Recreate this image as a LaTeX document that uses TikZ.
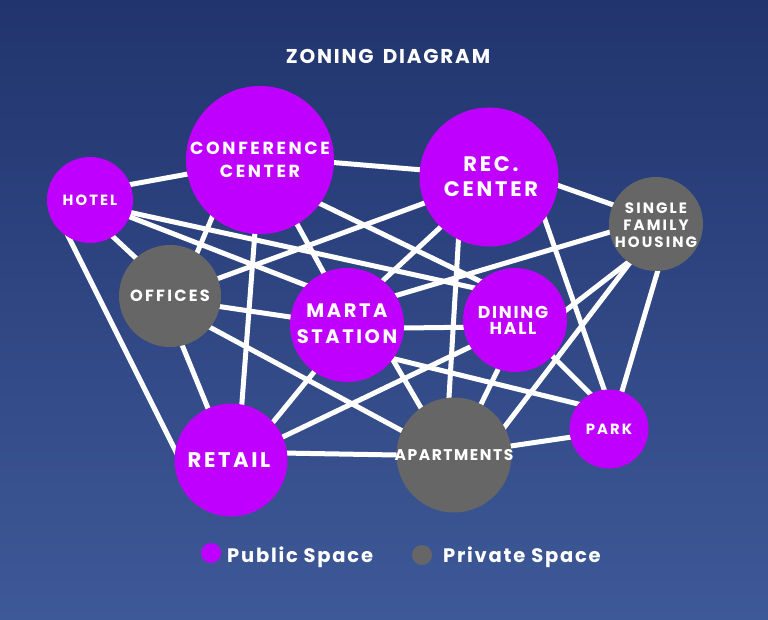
\documentclass[tikz,border=0pt]{standalone}
\usepackage{fontspec}
\setmainfont{Poppins}
\newfontfamily\lab{Poppins}
\pgfdeclarelayer{back}
\pgfdeclarelayer{edges}
\pgfsetlayers{back,edges,main}
\definecolor{bgtop}{HTML}{21346E}
\definecolor{bgbot}{HTML}{3E5998}
\definecolor{purp}{HTML}{C000FF}
\definecolor{greyz}{HTML}{666666}
\newcommand{\zf}[3]{\lab\bfseries\addfontfeatures{LetterSpace=#3}\fontsize{#1}{#2}\selectfont}
\begin{document}
\begin{tikzpicture}[x=1pt,y=-1pt,
  zone/.style={circle, inner sep=0pt},
  pub/.style={zone, fill=purp},
  priv/.style={zone, fill=greyz},
  ztext/.style={inner sep=0pt, text=white, align=center},
  link/.style={white, line width=5pt, shorten <=-4pt, shorten >=-4pt},
  dot/.style={circle, inner sep=0pt, minimum size=20pt},
]
\useasboundingbox (0,0) rectangle (768,620);
\begin{pgfonlayer}{back}
\shade[top color=bgtop, bottom color=bgbot] (0,0) rectangle (768,620);
\end{pgfonlayer}

% title
\node[ztext, anchor=base, font=\zf{20}{24}{9}] (title) at (388,64) {ZONING\hspace{3pt} DIAGRAM};

% zones
\node[pub, minimum size=86pt]  (H) at (90,200) {};
\node[pub, minimum size=148pt] (C) at (260,160) {};
\node[pub, minimum size=139pt] (R) at (489,177) {};
\node[priv, minimum size=94pt] (S) at (656,224) {};
\node[priv, minimum size=102pt] (O) at (170,296) {};
\node[pub, minimum size=114pt] (M) at (347,325) {};
\node[pub, minimum size=104pt] (D) at (515,320) {};
\node[pub, minimum size=113pt] (T) at (231,460) {};
\node[priv, minimum size=115pt] (A) at (454,455) {};
\node[pub, minimum size=79pt]  (P) at (609,429) {};

\node[ztext, font=\zf{14.8}{17}{14}]   (Ht) at (H) {HOTEL};
\node[ztext, font=\zf{17.5}{23}{15}]   (Ct) at (C) {CONFERENCE\\CENTER};
\node[ztext, font=\zf{21}{25}{13}]     (Rt) at ([xshift=2pt]R.center) {REC.\\CENTER};
\node[ztext, font=\zf{15}{17}{14}]     (St) at ([yshift=-1pt]S.center) {SINGLE\\FAMILY\\HOUSING};
\node[ztext, font=\zf{16.2}{19}{14}]   (Ot) at (O) {OFFICES};
\node[ztext, font=\zf{19.5}{26}{13}]   (Mt) at ([yshift=1pt]M.center) {MARTA\\STATION};
\node[ztext, font=\zf{17.2}{16}{10}]   (Dt) at ([xshift=-2pt]D.center) {DINING\\HALL};
\node[ztext, font=\zf{21.2}{24}{12}]   (Tt) at ([xshift=-2pt]T.center) {RETAIL};
\node[ztext, font=\zf{15.5}{18}{10}]   (At) at (A) {APARTMENTS};
\node[ztext, font=\zf{14.8}{17}{14}]   (Pt) at (P) {PARK};

% connectors
\begin{pgfonlayer}{edges}
\draw[link] (H.21) -- (C.191);
\draw[link] (H.-58) -- (O.132);
\draw[link] (H.-119) -- (T.170);
\draw[link] (H.-23) -- (M.136);
\draw[link] (H.-17) -- (D.142);
\draw[link] (C.-2) -- (R.174);
\draw[link] (C.-130) -- (O.58);
\draw[link] (C.-94) -- (T.79);
\draw[link] (C.-60) -- (M.114);
\draw[link] (C.-36) -- (D.132);
\draw[link] (R.-7) -- (S.156);
\draw[link] (R.-158) -- (O.20);
\draw[link] (R.-134) -- (M.51);
\draw[link] (R.-116) -- (A.95);
\draw[link] (R.-37) -- (P.97);
\draw[link] (S.190) -- (M.31);
\draw[link] (S.-126) -- (D.11);
\draw[link] (S.-124) -- (A.29);
\draw[link] (S.-88) -- (P.71);
\draw[link] (O.-12) -- (M.172);
\draw[link] (M.-3) -- (D.188);
\draw[link] (M.-125) -- (T.42);
\draw[link] (M.-37) -- (A.125);
\draw[link] (M.-36) -- (P.141);
\draw[link] (D.-44) -- (P.118);
\draw[link] (D.-109) -- (A.62);
\draw[link] (T.24) -- (D.-149);
\draw[link] (A.9) -- (P.192);
\draw[link] (T.7) -- (A.180);
\draw[link] (O.-76) -- (T.114);
\draw[link] (O.-38) -- (A.155);
\end{pgfonlayer}

% legend
\node[dot, fill=purp]  (lp) at (211,553) {};
\node[dot, fill=greyz] (lg) at (422,555) {};
\node[ztext, anchor=base west, font=\zf{19.5}{23}{9}] (lpt) at (227,562) {Public Space};
\node[ztext, anchor=base west, font=\zf{19.5}{23}{9}] (lgt) at (443,562) {Private Space};
\end{tikzpicture}
\end{document}
